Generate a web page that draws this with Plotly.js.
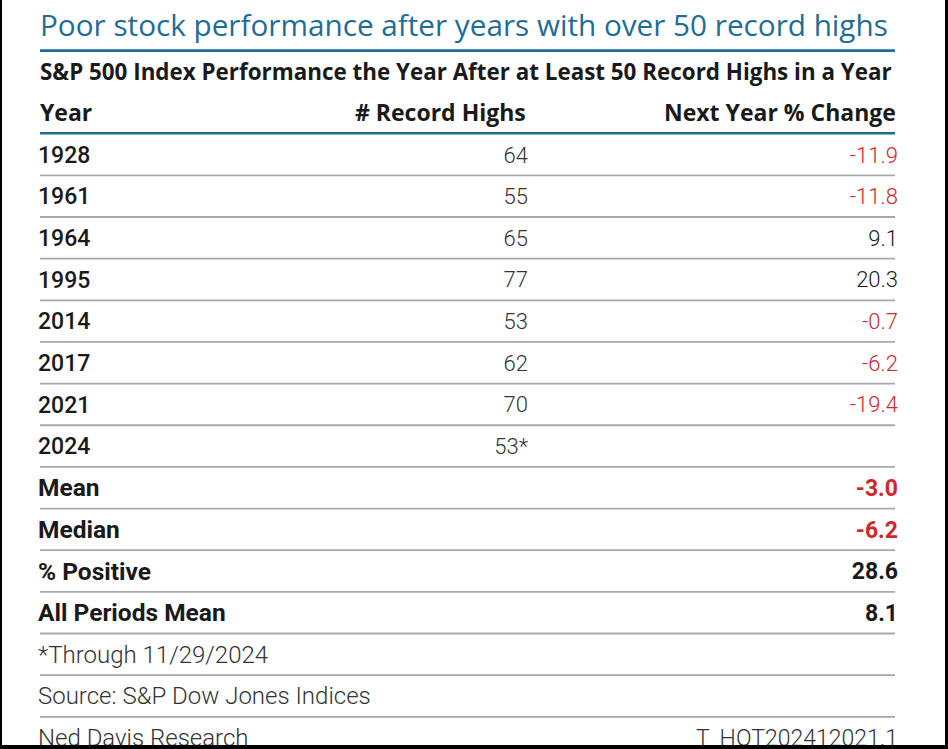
<!DOCTYPE html>
<html><head><meta charset="utf-8">
<script src="https://cdn.plot.ly/plotly-3.0.1.min.js"></script>
<style>html,body{margin:0;padding:0;background:#fff}#chart{width:948px;height:749px}</style>
</head><body><div id="chart"></div>
<script>
// ---- data ----
var years = ["1928","1961","1964","1995","2014","2017","2021","2024"];
var recordHighs = ["64","55","65","77","53","62","70","53*"];
var nextYearChange = [-11.9, -11.8, 9.1, 20.3, -0.7, -6.2, -19.4, null];
var statLabels = ["Mean","Median","% Positive","All Periods Mean"];
var statValues = [-3.0, -6.2, 28.6, 8.1];
var headers = ["Year","# Record Highs","Next Year % Change"];
var footnotes = ["*Through 11/29/2024","Source: S&P Dow Jones Indices","Ned Davis Research"];
var footCode = "T_HOT202412021.1";
var titleText = "Poor stock performance after years with over 50 record highs";
var subtitleText = "S&P 500 Index Performance the Year After at Least 50 Record Highs in a Year";

// ---- layout helpers ----
var BLUE = "#1f6d96", RED = "#d3262c", DARK = "#1a1a1a", LIGHT = "#333333", GRAY = "#a9a9a9";
var XL = 40, XLT = 38, XM = 528, XR = 898, XEND = 895;
var ROBOTO = "Roboto", OPEN = "Open Sans";
var rowIdx = years.map(function(_, i){ return i; });
var statIdx = statLabels.map(function(_, i){ return years.length + i; });
var footIdx = footnotes.map(function(_, i){ return years.length + statLabels.length + i; });
function colorFor(v){ return v === null ? DARK : (v < 0 ? RED : DARK); }
function fmt(v){ return v === null ? "" : v.toFixed(1); }
function same(arr, v){ return arr.map(function(){ return v; }); }

var traces = [
  {type:"scatter", mode:"text", x: same(years, XLT), y: rowIdx, text: years,
   textposition:"middle right", textfont:{family:ROBOTO, size:23, weight:500, color:DARK}, hoverinfo:"skip", cliponaxis:false},
  {type:"scatter", mode:"text", x: same(recordHighs, XM), y: rowIdx, text: recordHighs,
   textposition:"middle left", textfont:{family:ROBOTO, size:22, weight:300, color:LIGHT}, hoverinfo:"skip", cliponaxis:false},
  {type:"scatter", mode:"text", x: same(nextYearChange, XR), y: rowIdx, text: nextYearChange.map(fmt),
   textposition:"middle left", textfont:{family:ROBOTO, size:22, weight:300, color: nextYearChange.map(colorFor)}, hoverinfo:"skip", cliponaxis:false},
  {type:"scatter", mode:"text", x: same(statLabels, XLT), y: statIdx, text: statLabels,
   textposition:"middle right", textfont:{family:ROBOTO, size:24.5, weight:700, color:DARK}, hoverinfo:"skip", cliponaxis:false},
  {type:"scatter", mode:"text", x: same(statValues, XR), y: statIdx, text: statValues.map(fmt),
   textposition:"middle left", textfont:{family:ROBOTO, size:23, weight:700, color: statValues.map(colorFor)}, hoverinfo:"skip", cliponaxis:false},
  {type:"scatter", mode:"text", x: same(footnotes, XLT), y: footIdx, text: footnotes,
   textposition:"middle right", textfont:{family:ROBOTO, size:24, weight:300, color:LIGHT}, hoverinfo:"skip", cliponaxis:false},
  {type:"scatter", mode:"text", x: [XR], y: [footIdx[footIdx.length-1]], text: [footCode],
   textposition:"middle left", textfont:{family:ROBOTO, size:23, weight:300, color:LIGHT}, hoverinfo:"skip", cliponaxis:false}
];

var nRows = years.length + statLabels.length + footnotes.length;
var shapes = [];
for (var i = 0; i < nRows - 1; i++) {
  shapes.push({type:"line", xref:"x", yref:"y", x0:XL, x1:XEND, y0:i+0.44, y1:i+0.44, line:{color:GRAY, width:1.8}});
}
shapes.push({type:"line", xref:"x", yref:"y", x0:XL, x1:XEND, y0:-0.57, y1:-0.57, line:{color:BLUE, width:2.6}});
shapes.push({type:"line", xref:"x", yref:"y", x0:XL, x1:XEND, y0:-2.555, y1:-2.555, line:{color:BLUE, width:2.6}});
// frame
shapes.push({type:"rect", xref:"paper", yref:"paper", x0:0, x1:2/948, y0:0, y1:1, fillcolor:"#000", line:{width:0}, layer:"above"});
shapes.push({type:"rect", xref:"paper", yref:"paper", x0:945/948, x1:1, y0:0, y1:1, fillcolor:"#000", line:{width:0}, layer:"above"});
shapes.push({type:"rect", xref:"paper", yref:"paper", x0:0, x1:1, y0:0, y1:4/749, fillcolor:"#000", line:{width:0}, layer:"above"});

var annotations = [
  {xref:"x", yref:"y", x:XLT, y:-3.17, text:titleText, showarrow:false, xanchor:"left", yanchor:"middle",
   font:{family:OPEN, size:29.7, color:BLUE}},
  {xref:"x", yref:"y", x:XLT, y:-2.06, text:subtitleText, showarrow:false, xanchor:"left", yanchor:"middle",
   font:{family:OPEN, size:22.4, weight:700, color:DARK}},
  {xref:"x", yref:"y", x:XLT, y:-1.07, text:headers[0], showarrow:false, xanchor:"left", yanchor:"middle",
   font:{family:OPEN, size:23, weight:700, color:DARK}},
  {xref:"x", yref:"y", x:XM, y:-1.07, text:headers[1], showarrow:false, xanchor:"right", yanchor:"middle",
   font:{family:OPEN, size:23, weight:700, color:DARK}},
  {xref:"x", yref:"y", x:XR, y:-1.07, text:headers[2], showarrow:false, xanchor:"right", yanchor:"middle",
   font:{family:OPEN, size:23, weight:700, color:DARK}}
];

var ROW = 41.65, Y0 = 157;
var layout = {
  width:948, height:749, margin:{l:0,r:0,t:0,b:0},
  paper_bgcolor:"#fff", plot_bgcolor:"#fff", showlegend:false,
  xaxis:{range:[0,948], visible:false, fixedrange:true},
  yaxis:{range:[(749-Y0)/ROW, -Y0/ROW], visible:false, fixedrange:true},
  shapes:shapes, annotations:annotations
};
Plotly.newPlot("chart", traces, layout, {staticPlot:true});
</script></body></html>
